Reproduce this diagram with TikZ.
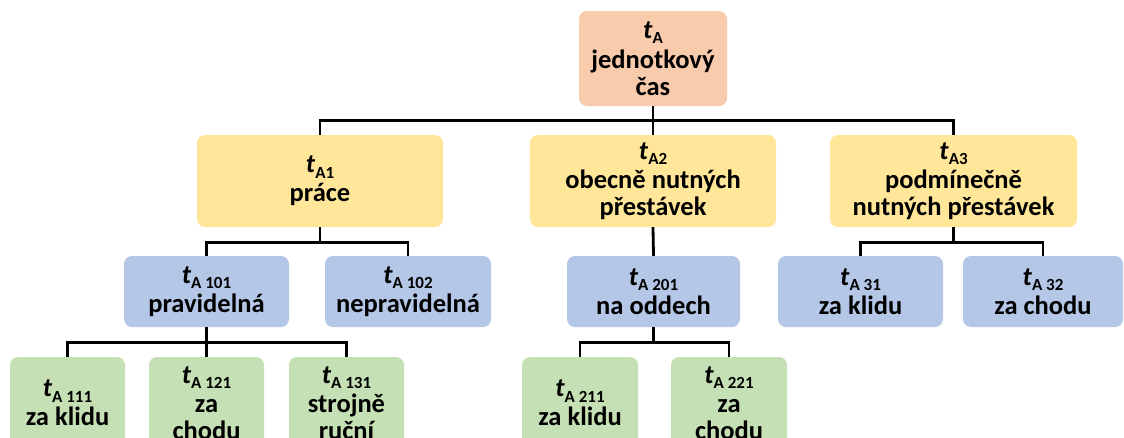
\documentclass[tikz,border=0pt]{standalone}
\usepackage{fontspec}
\setmainfont{Carlito}
% bold italic t with an upright subscript
\newcommand{\tsb}[1]{\textit{t}\raisebox{-5.5pt}{\fontsize{17}{17}\selectfont #1}}
\definecolor{rootfill}{HTML}{F8CBAD}
\definecolor{lvlone}{HTML}{FFE699}
\definecolor{lvltwo}{HTML}{B4C7E7}
\definecolor{lvlthree}{HTML}{C5E0B4}
\tikzset{
  box/.style={rounded corners=8pt, inner sep=0pt, align=center,
    font=\fontsize{26.5}{27}\selectfont\bfseries},
  rootbox/.style={box, fill=rootfill, minimum width=148pt, minimum height=95pt},
  onebox/.style={box, fill=lvlone, minimum width=246pt, minimum height=92pt},
  twobox/.style={box, fill=lvltwo, minimum width=165pt, minimum height=71pt},
  threebox/.style={box, fill=lvlthree, minimum width=115pt, minimum height=92pt},
  link/.style={draw=black, line width=2.8pt}
}
\begin{document}
\begin{tikzpicture}[x=1pt, y=-1pt]
\useasboundingbox (0,0) rectangle (1124,437);
\clip (0,0) rectangle (1124,437);
% top
\node[rootbox] (r) at (653,58.5) {\tsb{A}\\[3pt]jednotkový\\čas};
% first level
\node[onebox] (a1) at (320,181) {\tsb{A1}\\[2pt]práce};
\node[onebox] (a2) at (653,181) {\tsb{A2}\\[2pt]obecně nutných\\přestávek};
\node[onebox, minimum width=247pt] (a3) at (953.5,181) {\tsb{A3}\\[2pt]podmínečně\\nutných přestávek};
% second level
\node[twobox] (a101) at (206.5,291.5) {\tsb{A 101}\\[2pt]pravidelná};
\node[twobox, minimum width=166pt] (a102) at (408,291.5) {\tsb{A 102}\\[2pt]nepravidelná};
\node[twobox, minimum width=173pt] (a201) at (653.5,291.5) {\tsb{A 201}\\[2pt]na oddech};
\node[twobox] (a31) at (860.5,291.5) {\tsb{A 31}\\[2pt]za klidu};
\node[twobox, minimum width=160pt] (a32) at (1043,291.5) {\tsb{A 32}\\[2pt]za chodu};
% third level
\node[threebox] (a111) at (67.5,403) {\tsb{A 111}\\[2pt]za klidu};
\node[threebox] (a121) at (206.5,403) {\tsb{A 121}\\[2pt]za\\chodu};
\node[threebox] (a131) at (346.5,403) {\tsb{A 131}\\[2pt]strojně\\ruční};
\node[threebox, minimum width=116pt] (a211) at (580,403) {\tsb{A 211}\\[2pt]za klidu};
\node[threebox, minimum width=116pt] (a221) at (729,403) {\tsb{A 221}\\[2pt]za\\chodu};
% connectors
\draw[link] (r.south) -- ++(0,14) -| (a1.north);
\draw[link] (r.south) -- ++(0,14) -| (a3.north);
\draw[link] (r.south) -- (a2.north);
\draw[link] (a1.south) -- ++(0,15) -| (a101.north);
\draw[link] (a1.south) -- ++(0,15) -| (a102.north);
\draw[link] (a2.south) -- (a201.north);
\draw[link] (a3.south) -- ++(0,15) -| (a31.north);
\draw[link] (a3.south) -- ++(0,15) -| (a32.north);
\draw[link] (a101.south) -- ++(0,15) -| (a111.north);
\draw[link] (a101.south) -- ++(0,15) -| (a131.north);
\draw[link] (a101.south) -- (a121.north);
\draw[link] (a201.south) -- ++(0,15) -| (a211.north);
\draw[link] (a201.south) -- ++(0,15) -| (a221.north);
\end{tikzpicture}
\end{document}
